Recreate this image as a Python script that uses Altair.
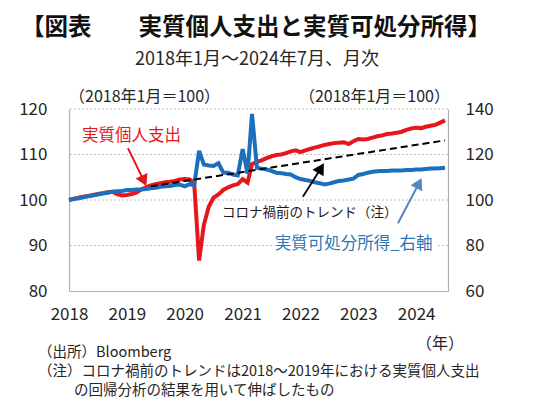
import altair as alt
import pandas as pd

# monthly values, 2018-01 .. 2024-07 (2018-01 = 100)
spending = [
    100.0, 100.3, 100.5, 100.7, 100.9, 101.1, 101.3, 101.5, 101.7, 101.8, 101.3, 101.0,
    101.1, 101.3, 101.6, 102.3, 102.8, 103.2, 103.5, 103.7, 103.9, 104.0, 104.2, 104.5,
    104.6, 104.5, 103.8, 86.7, 94.5, 98.5, 100.5, 101.2, 102.2, 102.8, 103.2, 103.5,
    104.6, 103.8, 107.9, 108.4, 108.7, 109.2, 109.6, 109.9, 110.0, 110.3, 110.7, 110.9,
    110.5, 110.9, 111.2, 111.5, 111.8, 112.1, 112.3, 112.5, 112.6, 112.7, 112.3, 112.9,
    113.4, 113.3, 113.4, 113.7, 114.0, 114.2, 114.5, 114.6, 114.8, 115.0, 115.4, 115.7,
    115.9, 115.8, 116.1, 116.3, 116.5, 117.0, 117.5,
]
income = [
    100.0, 100.4, 100.8, 101.2, 101.6, 102.0, 102.4, 102.8, 103.2, 103.6, 103.8, 104.0,
    104.4, 104.4, 104.6, 104.6, 104.8, 105.2, 105.4, 105.8, 106.0, 106.2, 106.6, 106.8,
    106.0, 107.0, 106.4, 121.6, 115.6, 115.2, 115.0, 116.2, 112.0, 112.0, 111.2, 110.8,
    122.4, 111.6, 137.8, 114.2, 113.8, 113.4, 112.8, 112.0, 111.8, 111.4, 111.2, 110.0,
    109.2, 108.8, 108.4, 107.8, 107.4, 106.8, 107.2, 107.8, 108.4, 108.6, 109.0, 109.4,
    111.0, 111.4, 112.0, 112.4, 112.6, 112.8, 112.8, 113.0, 113.0, 113.0, 113.2, 113.2,
    113.4, 113.4, 113.6, 113.8, 113.8, 114.0, 114.2,
]
trend_dates = ["2019-06-01", "2024-07-01"]
trend_values = [103.0, 113.1]
grid_values = [90, 100, 110, 120]
year_ticks = list(range(2018, 2025))

FONT = "Noto Sans CJK JP"
RED = "#e5171d"
BLUE = "#1b6fbc"

months = pd.date_range("2018-01-01", periods=len(spending), freq="MS")
frame = pd.DataFrame({"date": months, "spending": spending, "income": income})
trend = pd.DataFrame({"date": pd.to_datetime(trend_dates), "value": trend_values})
grid = pd.DataFrame({"value": grid_values})

x_scale = alt.Scale(domain=[alt.DateTime(year=2018, month=1, date=1),
                            alt.DateTime(year=2024, month=7, date=20)])
left_scale = alt.Scale(domain=[80, 120], nice=False, zero=False)
right_scale = alt.Scale(domain=[60, 140], nice=False, zero=False)

x_axis = alt.Axis(
    values=[alt.DateTime(year=y, month=1, date=1) for y in year_ticks],
    format="%Y", title=None, ticks=False, grid=False, labelFlush=False,
    labelPadding=15, labelFontSize=17, labelColor="#262626", labelFont=FONT,
    domainColor="#b0b0b0", domainWidth=1.2,
)
x_enc = alt.X("date:T", scale=x_scale, axis=x_axis)


def left_y(field):
    return alt.Y(field, scale=left_scale, axis=None)


gridlines = alt.Chart(grid).mark_rule(color="#bfbfbf", strokeDash=[2, 2], strokeWidth=1).encode(
    y=left_y("value:Q")
)

red_line = alt.Chart(frame).mark_line(color=RED, strokeWidth=4).encode(
    x=x_enc,
    y=alt.Y("spending:Q", scale=left_scale, axis=alt.Axis(
        values=[80, 90, 100, 110, 120], title=None, ticks=False, grid=False,
        labelPadding=22, labelFontSize=17, labelColor="#262626", labelFont=FONT,
        domainColor="#b0b0b0", domainWidth=1.2,
    )),
)

blue_line = alt.Chart(frame).mark_line(color=BLUE, strokeWidth=4).encode(
    x="date:T",
    y=alt.Y("income:Q", scale=right_scale, axis=alt.Axis(
        orient="right", values=[60, 80, 100, 120, 140], title=None, ticks=False, grid=False,
        labelPadding=17, labelFontSize=17, labelColor="#262626", labelFont=FONT,
        domainColor="#b0b0b0", domainWidth=1.2,
    )),
)

trend_line = alt.Chart(trend).mark_line(color="black", strokeWidth=2, strokeDash=[7, 4]).encode(
    x="date:T", y=left_y("value:Q")
)


def arrow(start, head, color, angle, width=2.0):
    pts = pd.DataFrame({"date": pd.to_datetime([start[0], head[0]]), "value": [start[1], head[1]]})
    shaft = alt.Chart(pts).mark_line(color=color, strokeWidth=width).encode(
        x="date:T", y=left_y("value:Q")
    )
    tip = alt.Chart(pts.iloc[[1]]).mark_point(
        shape="triangle-up", filled=True, size=170, angle=angle, color=color, opacity=1
    ).encode(x="date:T", y=left_y("value:Q"))
    return [shaft, tip]


def label(text, date, value, color, size, align="left"):
    pos = pd.DataFrame({"date": [pd.Timestamp(date)], "value": [value]})
    return alt.Chart(pos).mark_text(
        text=text, align=align, baseline="middle", font=FONT, fontSize=size, color=color
    ).encode(x="date:T", y=left_y("value:Q"))


def free_text(text, x, y, size, align="left", weight="normal", color="#262626"):
    return alt.Chart(alt.Data(values=[{}])).mark_text(
        text=text, align=align, baseline="middle", font=FONT, fontSize=size,
        fontWeight=weight, color=color
    ).encode(x=alt.value(x), y=alt.value(y))


mask = pd.DataFrame({"d0": [pd.Timestamp("2021-07-06")], "d1": [pd.Timestamp("2024-05-06")],
                     "v0": [89.0], "v1": [91.2]})
blue_mask = alt.Chart(mask).mark_rect(color="white").encode(
    x="d0:T", x2="d1:T", y=left_y("v0:Q"), y2="v1:Q"
)

layers = [
    gridlines,
    red_line,
    blue_line,
    trend_line,
    *arrow(("2019-01-08", 111.4), ("2019-04-19", 104.2), RED, 155),
    *arrow(("2022-01-16", 100.7), ("2022-05-10", 107.0), "black", 31, 1.8),
    *arrow(("2023-09-08", 94.9), ("2024-01-19", 103.7), "#5585c5", 27),
    label("実質個人支出", "2018-03-24", 114.1, RED, 16.5),
    label("コロナ禍前のトレンド（注）", "2020-08-23", 97.1, "#1a1a1a", 13.5),
    blue_mask,
    label("実質可処分所得_右軸", "2021-07-23", 90.3, "#2e75b6", 16.5),
    free_text("【図表　　実質個人支出と実質可処分所得】", -48, -81, 23.5, weight="bold", color="#111111"),
    free_text("2018年1月～2024年7月、月次", 188, -49, 18, align="center"),
    free_text("（2018年1月＝100）", 0, -12, 16),
    free_text("（2018年1月＝100）", 381, -12, 16, align="right"),
    free_text("（年）", 371, 235, 16, align="center"),
    free_text("（出所）Bloomberg", -31, 244, 14.5),
    free_text("（注）コロナ禍前のトレンドは2018～2019年における実質個人支出", -31, 263, 14.5),
    free_text("の回帰分析の結果を用いて伸ばしたもの", 5, 282, 14.5),
]

chart = (
    alt.layer(*layers)
    .resolve_scale(y="independent")
    .properties(
        width=379, height=182,
        autosize=alt.AutoSizeParams(type="none"),
        padding={"left": 61, "top": 101, "right": 84, "bottom": 112},
        background="white",
    )
    .configure_view(stroke=None)
)

chart.save("out.html", embed_options={"renderer": "svg", "actions": False})
